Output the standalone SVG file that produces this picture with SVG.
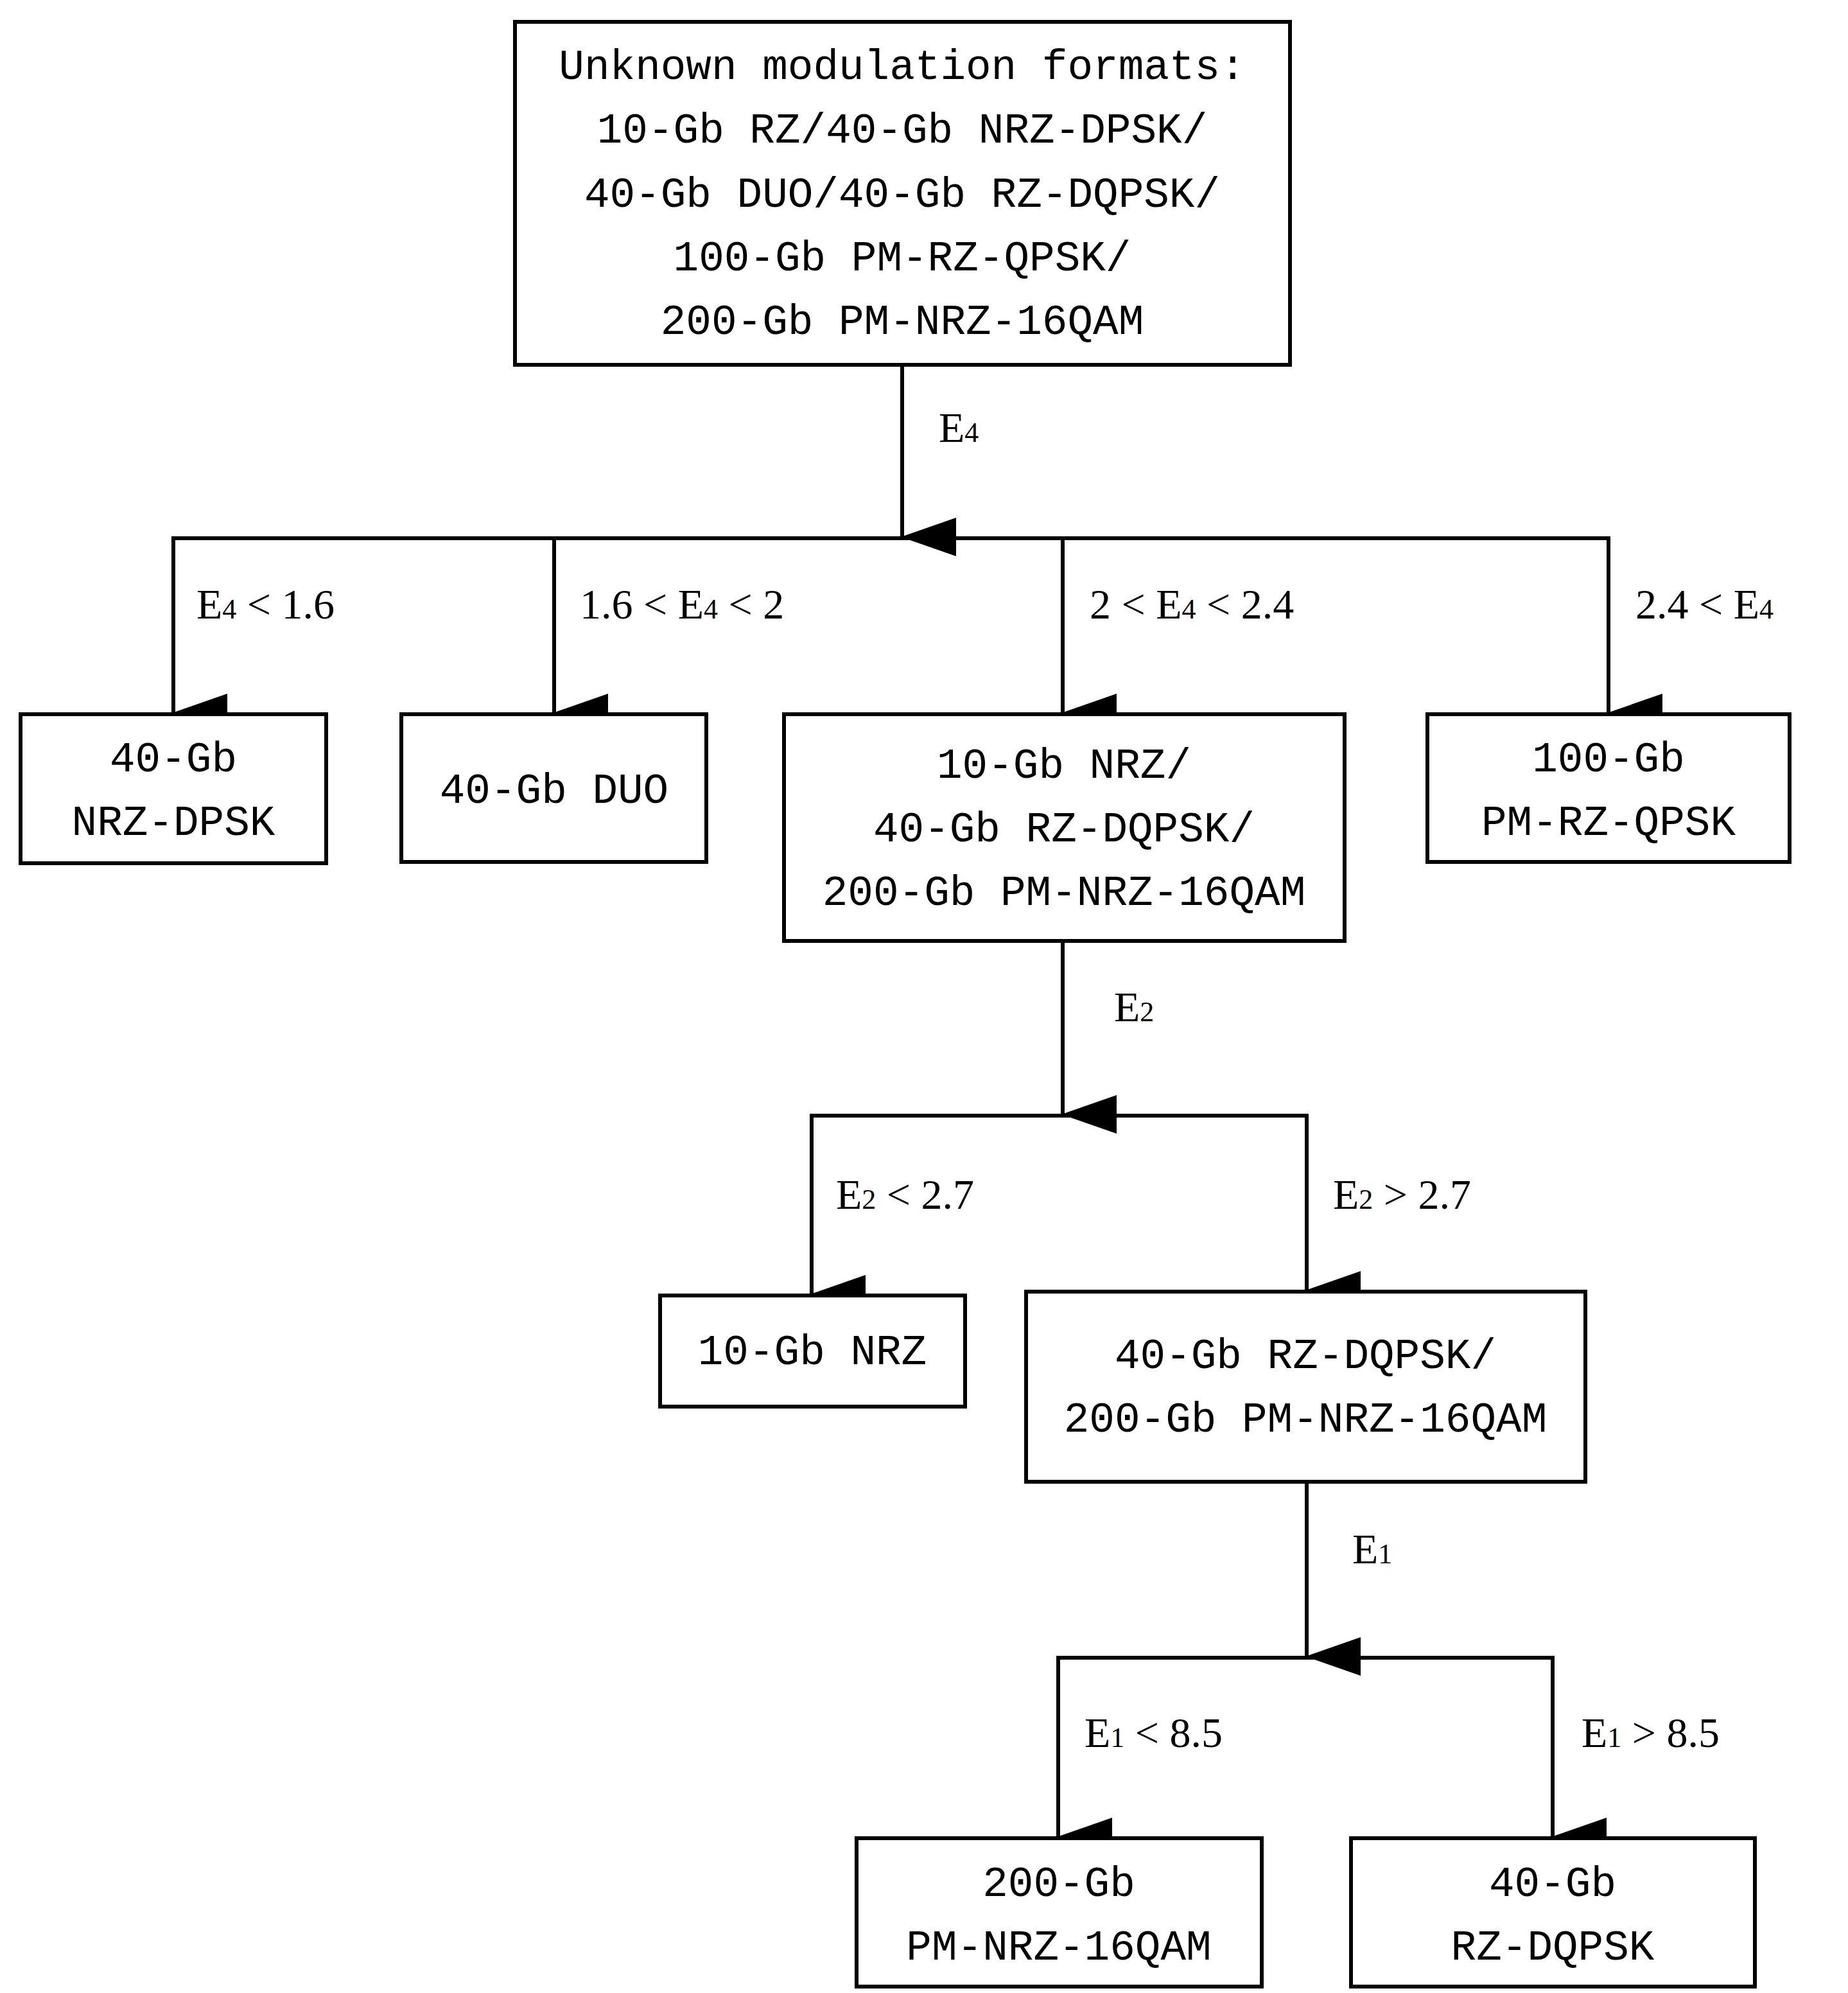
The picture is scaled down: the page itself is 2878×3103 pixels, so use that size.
<svg xmlns="http://www.w3.org/2000/svg" width="2878" height="3103" viewBox="0 0 2878 3103">
<style>
.box{fill:#fff;stroke:#000;stroke-width:6}
.t{font-family:"Liberation Mono","DejaVu Sans Mono",monospace;font-size:66px;fill:#000;text-anchor:middle}
.l{font-family:"Liberation Serif","DejaVu Serif",serif;font-size:66px;fill:#000}
.s{font-size:44px}
.c{fill:none;stroke:#000;stroke-width:6}
</style>
<defs>
<marker id="ah" markerUnits="userSpaceOnUse" markerWidth="60" markerHeight="86" viewBox="0 0 60 86" refX="30" refY="84" orient="auto-start-reverse">
<path d="M0,0 L60,0 L30,86 Z" fill="#000"/>
</marker>
</defs>
<rect width="2878" height="3103" fill="#fff"/>
<g id="connectors">
<line class="c" x1="1405" y1="568" x2="1405" y2="836" marker-end="url(#ah)"/>
<polyline class="c" points="270,1108 270,838 2505,838 2505,1108"/>
<line class="c" x1="270" y1="838" x2="270" y2="1110" marker-end="url(#ah)"/>
<line class="c" x1="863" y1="838" x2="863" y2="1110" marker-end="url(#ah)"/>
<line class="c" x1="1655" y1="838" x2="1655" y2="1110" marker-end="url(#ah)"/>
<line class="c" x1="2505" y1="838" x2="2505" y2="1110" marker-end="url(#ah)"/>
<line class="c" x1="1655" y1="1465" x2="1655" y2="1735" marker-end="url(#ah)"/>
<polyline class="c" points="1264,2011 1264,1737 2035,1737 2035,2011"/>
<line class="c" x1="1264" y1="1737" x2="1264" y2="2015" marker-end="url(#ah)"/>
<line class="c" x1="2035" y1="1737" x2="2035" y2="2009" marker-end="url(#ah)"/>
<line class="c" x1="2035" y1="2307" x2="2035" y2="2579" marker-end="url(#ah)"/>
<polyline class="c" points="1648,2858 1648,2581 2418,2581 2418,2858"/>
<line class="c" x1="1648" y1="2581" x2="1648" y2="2860" marker-end="url(#ah)"/>
<line class="c" x1="2418" y1="2581" x2="2418" y2="2860" marker-end="url(#ah)"/>
<text class="l" x="1462" y="688">E<tspan class="s">4</tspan></text>
<text class="l" x="306" y="963">E<tspan class="s">4</tspan> &lt; 1.6</text>
<text class="l" x="903" y="963">1.6 &lt; E<tspan class="s">4</tspan> &lt; 2</text>
<text class="l" x="1697" y="963">2 &lt; E<tspan class="s">4</tspan> &lt; 2.4</text>
<text class="l" x="2547" y="963">2.4 &lt; E<tspan class="s">4</tspan></text>
<text class="l" x="1735" y="1590">E<tspan class="s">2</tspan></text>
<text class="l" x="1302" y="1882">E<tspan class="s">2</tspan> &lt; 2.7</text>
<text class="l" x="2076" y="1882">E<tspan class="s">2</tspan> &gt; 2.7</text>
<text class="l" x="2106" y="2434">E<tspan class="s">1</tspan></text>
<text class="l" x="1689" y="2720">E<tspan class="s">1</tspan> &lt; 8.5</text>
<text class="l" x="2463" y="2720">E<tspan class="s">1</tspan> &gt; 8.5</text>
</g>
<g id="root">
<rect class="box" x="802" y="34" width="1207" height="534"/>
<text class="t" x="1405" y="123">Unknown modulation formats:</text>
<text class="t" x="1405" y="222">10-Gb RZ/40-Gb NRZ-DPSK/</text>
<text class="t" x="1405" y="322">40-Gb DUO/40-Gb RZ-DQPSK/</text>
<text class="t" x="1405" y="421">100-Gb PM-RZ-QPSK/</text>
<text class="t" x="1405" y="520">200-Gb PM-NRZ-16QAM</text>
</g>
<g id="n_nrzdpsk">
<rect class="box" x="32" y="1112" width="476" height="232"/>
<text class="t" x="270" y="1201">40-Gb</text>
<text class="t" x="270" y="1300">NRZ-DPSK</text>
</g>
<g id="n_duo">
<rect class="box" x="625" y="1112" width="475" height="230"/>
<text class="t" x="863" y="1250">40-Gb DUO</text>
</g>
<g id="n_mid">
<rect class="box" x="1221" y="1112" width="873" height="353"/>
<text class="t" x="1657" y="1211">10-Gb NRZ/</text>
<text class="t" x="1657" y="1310">40-Gb RZ-DQPSK/</text>
<text class="t" x="1657" y="1409">200-Gb PM-NRZ-16QAM</text>
</g>
<g id="n_qpsk">
<rect class="box" x="2223" y="1112" width="564" height="230"/>
<text class="t" x="2505" y="1201">100-Gb</text>
<text class="t" x="2505" y="1300">PM-RZ-QPSK</text>
</g>
<g id="n_nrz">
<rect class="box" x="1028" y="2017" width="475" height="173"/>
<text class="t" x="1265" y="2124">10-Gb NRZ</text>
</g>
<g id="n_pair">
<rect class="box" x="1598" y="2011" width="871" height="296"/>
<text class="t" x="2033" y="2130">40-Gb RZ-DQPSK/</text>
<text class="t" x="2033" y="2229">200-Gb PM-NRZ-16QAM</text>
</g>
<g id="n_16qam">
<rect class="box" x="1334" y="2862" width="631" height="231"/>
<text class="t" x="1649" y="2952">200-Gb</text>
<text class="t" x="1649" y="3051">PM-NRZ-16QAM</text>
</g>
<g id="n_dqpsk">
<rect class="box" x="2104" y="2862" width="629" height="231"/>
<text class="t" x="2418" y="2952">40-Gb</text>
<text class="t" x="2418" y="3051">RZ-DQPSK</text>
</g>
</svg>
